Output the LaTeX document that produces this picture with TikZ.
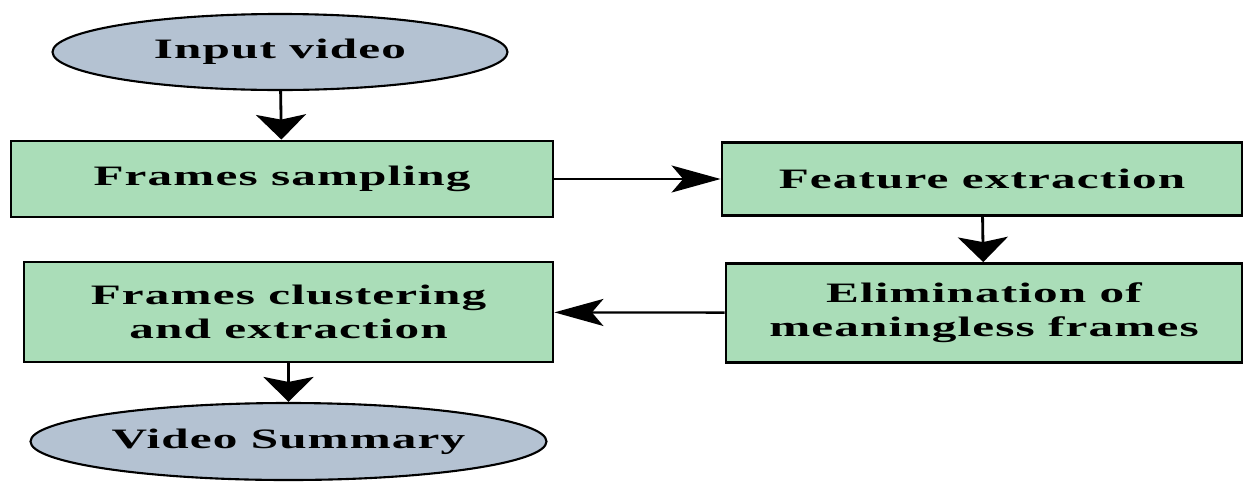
\documentclass[tikz,border=0pt]{standalone}
\usepackage{fontspec}
\setmainfont{Liberation Serif}[FakeStretch=1.75,LetterSpace=4]
\usepackage{tikz}
\usetikzlibrary{arrows.meta,shapes.geometric,positioning}
\definecolor{termfill}{HTML}{B4C2D2}
\definecolor{procfill}{HTML}{AADDB8}

\begin{document}
\begin{tikzpicture}
\tikzstyle{base}=[draw=black, line width=1.6pt, inner sep=0pt, align=center, font=\bfseries\fontsize{16}{19.5}\selectfont]
\tikzstyle{term}=[base, ellipse, line width=1.2pt, fill=termfill]
\tikzstyle{proc}=[base, rectangle, fill=procfill]
\tikzstyle{vconnect}=[line width=1.6pt, -{Stealth[length=0.5cm, width=1cm, inset=0.1cm]}]
\tikzstyle{hconnect}=[line width=1.3pt, -{Stealth[length=0.98cm, width=0.54cm, inset=0.23cm]}]

  \useasboundingbox (-5.6,1.04) rectangle (19.28,-8.68);

  \node[term] (input)    [minimum width=9.1cm, minimum height=1.52cm]                                              {Input video};
  \node[proc] (sampling) [below of =input, node distance=2.54cm, xshift=0.04cm, minimum width=10.84cm, minimum height=1.52cm] {Frames sampling};
  \node[proc] (feature)  [right of =sampling, node distance=14cm, minimum width=10.4cm, minimum height=1.46cm]    {Feature extraction};
  \node[proc] (elim)     [below of =feature, node distance=2.68cm, xshift=0.04cm, minimum width=10.32cm, minimum height=1.98cm] {Elimination of\\meaningless frames};
  \node[proc] (cluster)  [below of =sampling, node distance=2.66cm, xshift=0.13cm, minimum width=10.58cm, minimum height=2cm]   {Frames clustering\\and extraction};
  \node[term] (summary)  [below of =cluster, node distance=2.59cm, minimum width=10.32cm, minimum height=1.54cm]  {Video Summary};

  \path (input)    edge [vconnect] (sampling);
  \path (sampling) edge [hconnect] (feature);
  \path (feature)  edge [vconnect] (elim);
  \path (elim)     edge [hconnect] (cluster);
  \path (cluster)  edge [vconnect] (summary);

\end{tikzpicture}
\end{document}
